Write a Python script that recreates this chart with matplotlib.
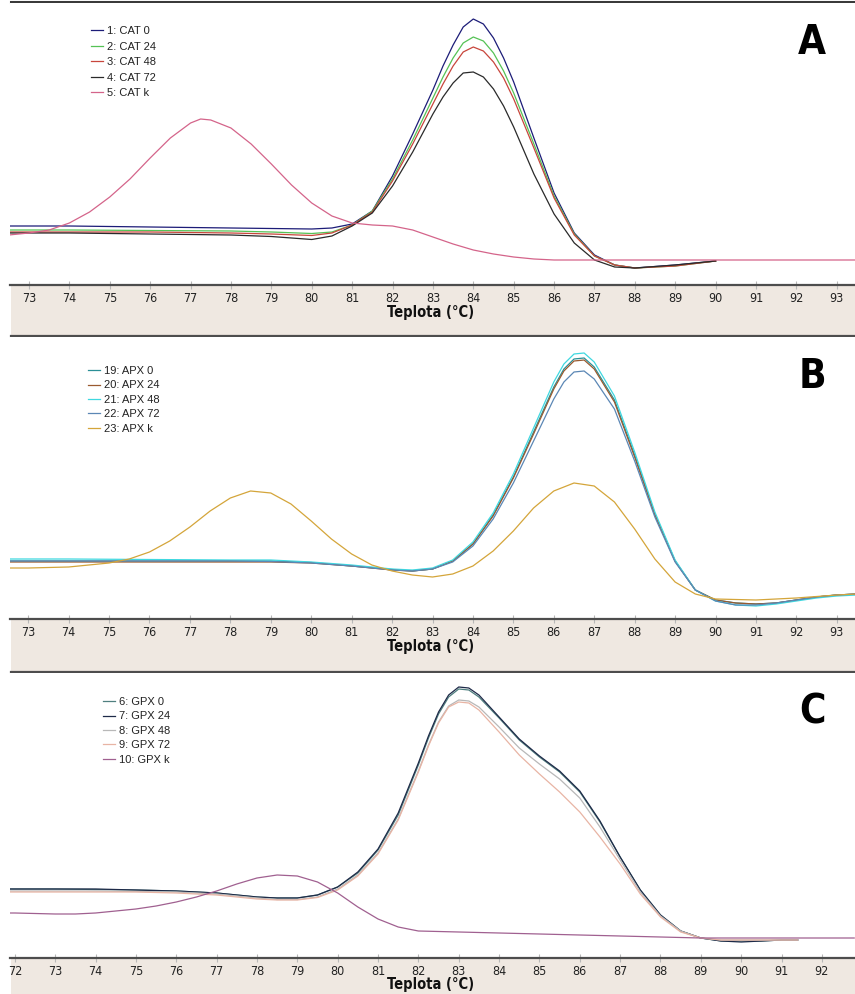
import matplotlib
matplotlib.use('Agg')
import matplotlib.pyplot as plt
from matplotlib.lines import Line2D

# ---------------- data (arbitrary -dF/dT units) ----------------
# Panel A : CAT
T_A = [72.5, 74, 76, 78, 79, 80, 80.5, 81, 81.5, 82, 82.5, 83, 83.25, 83.5, 83.75, 84,
       84.25, 84.5, 84.75, 85, 85.5, 86, 86.5, 87, 87.5, 88, 89, 90]
cat0 = [59, 59, 58, 57, 56.5, 56, 57, 61, 74, 109, 151, 195, 219, 240, 258, 266,
        261, 247, 227, 203, 147, 92, 52, 30, 20, 17, 20, 24]
cat24 = [55, 55, 54.5, 54, 53, 51.5, 53, 60, 74, 106, 145, 187, 208, 227, 242, 248,
         244, 232, 214, 192, 141, 89, 51, 29, 20, 17, 19, 24]
cat48 = [53, 53, 53, 52, 51, 49.5, 52, 60, 73, 104, 141, 181, 201, 219, 233, 238,
         234, 223, 207, 186, 137, 87, 50, 29, 20, 17, 19, 24]
cat72 = [52, 52, 51, 50, 48.5, 45.5, 49, 59, 72, 99, 133, 171, 188, 202, 212, 213,
         208, 196, 179, 158, 111, 71, 42, 25, 18, 17, 20, 24]
T_Ak = [72.5, 73, 73.5, 74, 74.5, 75, 75.5, 76, 76.5, 77, 77.25, 77.5, 78, 78.5, 79,
        79.5, 80, 80.5, 81, 81.5, 82, 82.5, 83, 83.5, 84, 84.5, 85, 85.5, 86, 87, 88,
        89, 90, 91, 92, 93, 93.5]
catk = [50, 52, 55, 62, 73, 88, 106, 127, 147, 162, 166, 165, 157, 141, 121,
        100, 82, 69, 62, 60, 59, 55, 48, 41, 35, 31, 28, 26, 25, 25, 25,
        25, 25, 25, 25, 25, 25]
labels_A = ['1: CAT 0', '2: CAT 24', '3: CAT 48', '4: CAT 72', '5: CAT k']

# Panel B : APX
T_B = [72.5, 74, 76, 78, 79, 80, 81, 82, 82.5, 83, 83.5, 84, 84.5, 85, 85.5, 86, 86.25,
       86.5, 86.75, 87, 87.5, 88, 88.5, 89, 89.5, 90, 90.5, 91, 91.5, 92, 92.5, 93, 93.5]
apx0 = [58, 58, 58, 58, 58, 56.5, 53, 49.5, 48, 50, 58, 75, 104, 142, 187, 232, 250,
        260, 261, 252, 219, 164, 105, 58, 29, 19, 16, 15, 16, 19, 22, 24, 25]
apx24 = [57, 57, 57, 57, 57, 56, 53, 49, 48, 50, 58, 75, 103, 141, 185, 230, 248,
         258, 259, 250, 217, 162, 104, 58, 29, 19, 16, 15, 16, 19, 22, 24, 25]
apx48 = [60, 60, 59.5, 59, 59, 57, 54, 50, 49, 51, 59, 77, 106, 145, 191, 237, 255,
         265, 266, 257, 223, 167, 107, 59, 29, 18, 14, 13, 15, 18, 21, 23, 24]
apx72 = [58, 58, 58, 58, 57.5, 56, 53, 49, 48, 50, 57, 73, 100, 136, 178, 220, 237,
         247, 248, 240, 210, 158, 102, 57, 29, 18, 14, 14, 16, 19, 22, 24, 25]
T_Bk = [72.5, 73, 74, 75, 75.5, 76, 76.5, 77, 77.5, 78, 78.5, 79, 79.5, 80, 80.5, 81,
        81.5, 82, 82.5, 83, 83.5, 84, 84.5, 85, 85.5, 86, 86.5, 87, 87.5, 88, 88.5, 89,
        89.5, 90, 91, 92, 93, 93.5]
apxk = [51, 51, 52, 56, 60, 67, 78, 92, 108, 121, 128, 126, 115, 98, 80, 65,
        54, 48, 44, 42, 45, 53, 68, 88, 111, 128, 136, 133, 117, 90, 60, 37,
        25, 20, 19, 21, 24, 25]
labels_B = ['19: APX 0', '20: APX 24', '21: APX 48', '22: APX 72', '23: APX k']

# Panel C : GPX
T_C = [71.8, 73, 74, 75, 76, 77, 77.5, 78, 78.5, 79, 79.5, 80, 80.5, 81, 81.5, 82, 82.25,
       82.5, 82.75, 83, 83.25, 83.5, 84, 84.5, 85, 85.5, 86, 86.5, 87, 87.5, 88, 88.5,
       89, 89.5, 90, 90.5, 91, 91.4]
gpx0 = [69, 69, 68.5, 68, 67, 65, 63, 61, 60, 60, 63, 71, 85, 108, 143, 193, 220,
        244, 261, 269, 268, 261, 240, 218, 201, 186, 166, 136, 101, 68, 43, 27,
        20, 17, 17, 17, 18, 18]
gpx24 = [69, 69, 69, 68, 67, 65, 63, 61, 60, 60, 63, 71, 86, 109, 145, 195, 222,
         246, 263, 271, 270, 263, 241, 219, 202, 187, 167, 137, 101, 68, 43, 27,
         20, 17, 16, 17, 18, 18]
gpx48 = [67, 67, 67, 66.5, 66, 64, 62, 60, 58.5, 58.5, 61, 69, 83, 105, 139, 187, 213,
         236, 252, 258, 257, 251, 231, 210, 194, 179, 160, 131, 98, 66, 42, 27,
         20, 18, 18, 18, 18, 18]
gpx72 = [66, 66, 66, 66, 65, 63, 61, 59, 58, 58, 60.5, 68, 82, 104, 138, 186, 212,
         235, 251, 256, 255, 248, 226, 203, 184, 166, 146, 121, 94, 64, 41, 26,
         20, 18, 18, 18, 18, 18]
T_Ck = [71.8, 72, 73, 73.5, 74, 74.5, 75, 75.5, 76, 76.5, 77, 77.5, 78, 78.5, 79, 79.5,
        80, 80.5, 81, 81.5, 82, 83, 84, 85, 86, 87, 88, 89, 90, 91, 92, 92.8]
gpxk = [45, 45, 44, 44, 45, 47, 49, 52, 56, 61, 67, 74, 80, 83, 82, 76,
        65, 51, 39, 31, 27, 26, 25, 24, 23, 22, 21, 20, 20, 20, 20, 20]
labels_C = ['6: GPX 0', '7: GPX 24', '8: GPX 48', '9: GPX 72', '10: GPX k']

ticks_AB = list(range(73, 94))
ticks_C = list(range(72, 93))

colors_A = ['#1c1c78', '#55c255', '#c8463c', '#2a2a2a', '#d4648a']
colors_B = ['#2a8f96', '#9a5a30', '#3fd8e0', '#5b87b5', '#d4a53a']
colors_C = ['#4f7f7f', '#1e2a48', '#b8b8b8', '#e8b4a4', '#a06090']

# ---------------- figure ----------------
W, H = 855, 994
fig = plt.figure(figsize=(W / 100, H / 100), dpi=100)
fig.patch.set_facecolor('white')

NARROW = ['DejaVu Sans']
LEG = ['Liberation Sans', 'DejaVu Sans']
STRIP = '#efe8e1'
LINE = '#4d4d4d'


def fx(px):
    return px / W


def fy(py):
    return 1 - py / H


def panel(top, sep, strip_bottom, xlim, ticks, series, leg_xy, letter, lspace,
          bottom_line=True):
    ax = fig.add_axes([fx(10), fy(sep), fx(W - 10), (sep - top) / H], zorder=2)
    ax.set_xlim(*xlim)
    ax.set_ylim(0, sep - top)
    for T, v, c, lab in series:
        ax.plot(T, v, color=c, lw=0.9, label=lab)
    for s in ('top', 'left', 'right'):
        ax.spines[s].set_visible(False)
    ax.spines['bottom'].set_color(LINE)
    ax.spines['bottom'].set_linewidth(1.6)
    ax.set_yticks([])
    ax.set_xticks(ticks)
    ax.set_xticklabels([str(t) for t in ticks], fontfamily=NARROW,
                       fontstretch='condensed', fontsize=9, color='#222222')
    ax.tick_params(axis='x', direction='inout', length=6, width=0.8,
                   color='#b8b8b8', pad=2)
    # strip
    sax = fig.add_axes([fx(11), fy(strip_bottom), fx(W - 11),
                        (strip_bottom - sep) / H], zorder=1)
    sax.set_facecolor(STRIP)
    sax.set_xticks([])
    sax.set_yticks([])
    for s in sax.spines.values():
        s.set_visible(False)
    if bottom_line:
        fig.add_artist(Line2D([fx(11), 1], [fy(strip_bottom)] * 2, color=LINE,
                              lw=1.6))
    fig.text(fx(431), fy(sep + 27), 'Teplota (°C)', ha='center', va='center',
             fontfamily=NARROW, fontstretch='condensed', fontweight='bold',
             fontsize=10.5, color='#111111')
    # legend
    leg = ax.legend(loc='upper left', bbox_to_anchor=(fx(leg_xy[0]), fy(leg_xy[1])),
                    bbox_transform=fig.transFigure, frameon=False,
                    prop={'family': LEG, 'size': 8}, handlelength=1.1,
                    handletextpad=0.35, labelspacing=lspace, borderpad=0,
                    borderaxespad=0)
    for t in leg.get_texts():
        t.set_color('#222222')
    fig.text(fx(812), fy(top + 40), letter, ha='center', va='center',
             fontfamily=NARROW, fontstretch='condensed', fontweight='heavy',
             fontsize=29, color='black')
    return ax


# top border line
fig.add_artist(Line2D([fx(11), 1], [fy(1.5)] * 2, color='#3a3a3a', lw=2.2))

panel(3, 285, 336, (72.53, 93.45), ticks_AB,
      [(T_A, cat0, colors_A[0], labels_A[0]),
       (T_A, cat24, colors_A[1], labels_A[1]),
       (T_A, cat48, colors_A[2], labels_A[2]),
       (T_A, cat72, colors_A[3], labels_A[3]),
       (T_Ak, catk, colors_A[4], labels_A[4])],
      (91, 26), 'A', 0.5)

panel(337, 619, 672, (72.55, 93.45), ticks_AB,
      [(T_B, apx0, colors_B[0], labels_B[0]),
       (T_B, apx24, colors_B[1], labels_B[1]),
       (T_B, apx48, colors_B[2], labels_B[2]),
       (T_B, apx72, colors_B[3], labels_B[3]),
       (T_Bk, apxk, colors_B[4], labels_B[4])],
      (88, 366), 'B', 0.4)

panel(673, 958, 994, (71.88, 92.82), ticks_C,
      [(T_C, gpx0, colors_C[0], labels_C[0]),
       (T_C, gpx24, colors_C[1], labels_C[1]),
       (T_C, gpx48, colors_C[2], labels_C[2]),
       (T_C, gpx72, colors_C[3], labels_C[3]),
       (T_Ck, gpxk, colors_C[4], labels_C[4])],
      (103, 697), 'C', 0.4, bottom_line=False)

fig.savefig('out.png', dpi=100, facecolor='white')
